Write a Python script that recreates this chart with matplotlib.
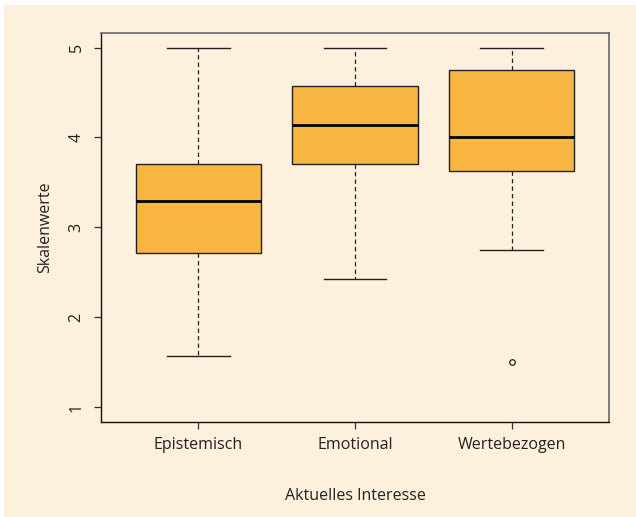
import matplotlib
matplotlib.use("Agg")
import matplotlib.pyplot as plt
from matplotlib.patches import Rectangle

plt.rcParams['font.family'] = ['Open Sans', 'DejaVu Sans']

# Skalenwerte je Interessensform (Kennwerte der Boxplots)
categories = ["Epistemisch", "Emotional", "Wertebezogen"]
whisker_low = [1.57, 2.43, 2.75]
quart_1 = [2.72, 3.71, 3.625]
medians = [3.29, 4.14, 4.0]
quart_3 = [3.71, 4.57, 4.75]
whisker_high = [5.0, 5.0, 5.0]
outliers = [[], [], [1.5]]

BG = "#fdf0dc"
FILL = "#f7b541"
FS = 11.5

fig = plt.figure(figsize=(6.36, 5.17), dpi=100, facecolor="white")
fig.patches.append(Rectangle((4 / 636, 0), 1, 1 - 5 / 517, transform=fig.transFigure,
                             facecolor=BG, edgecolor="none", zorder=-10))
ax = fig.add_axes([101.3 / 636, 95 / 517, 507.4 / 636, 389.3 / 517])
ax.set_facecolor(BG)

stats = []
for i, name in enumerate(categories):
    stats.append(dict(label=name, whislo=whisker_low[i], q1=quart_1[i], med=medians[i],
                      q3=quart_3[i], whishi=whisker_high[i], fliers=outliers[i]))

ax.bxp(stats, positions=[1, 2, 3], widths=0.8, patch_artist=True, showfliers=True,
       boxprops=dict(facecolor=FILL, edgecolor="#222222", linewidth=1.0),
       medianprops=dict(color="black", linewidth=2.0, solid_capstyle="butt"),
       whiskerprops=dict(color="#222222", linewidth=0.9, linestyle=(0, (3.5, 2.5))),
       capprops=dict(color="#222222", linewidth=1.0),
       capwidths=0.4,
       flierprops=dict(marker="o", markersize=4, markerfacecolor="none",
                       markeredgecolor="#222222", markeredgewidth=0.9))

ax.set_xlim(0.38, 3.62)
ax.set_ylim(0.835, 5.165)
ax.set_yticks([1, 2, 3, 4, 5])
ax.set_xticks([1, 2, 3])
ax.set_xticklabels(categories)
for lbl in ax.get_yticklabels():
    lbl.set_rotation(90)
    lbl.set_va("center")

ax.tick_params(axis="both", direction="out", length=5, width=0.9, color="#333333",
               labelsize=FS, labelcolor="#222222")
ax.tick_params(axis="x", pad=6)
ax.tick_params(axis="y", pad=7)

for side in ["left", "bottom"]:
    ax.spines[side].set_color("#111111")
    ax.spines[side].set_linewidth(1.0)
for side in ["top", "right"]:
    ax.spines[side].set_color("#666666")
    ax.spines[side].set_linewidth(1.2)

ax.set_xlabel("Aktuelles Interesse", fontsize=FS, color="#222222")
ax.set_ylabel("Skalenwerte", fontsize=FS, color="#222222")
ax.xaxis.set_label_coords(0.5, -0.19)
ax.yaxis.set_label_coords(-0.111, 0.5)
ax.xaxis.label.set_va("center")
ax.yaxis.label.set_va("center")

fig.savefig("out.png", dpi=100, facecolor=fig.get_facecolor())
